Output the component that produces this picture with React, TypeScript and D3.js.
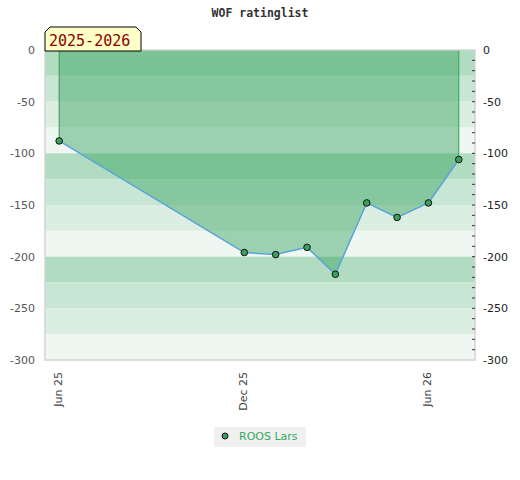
import React, { useRef, useEffect } from 'react';
import * as d3 from 'd3';

// rating history, first of every month
const ratingDates = ['2025-06-01', '2025-12-01', '2026-01-01', '2026-02-01', '2026-03-01', '2026-04-01', '2026-05-01', '2026-06-01', '2026-07-01'];
const ratingValues = [-88, -196, -198, -191, -217, -148, -162, -148, -106];

const xTickDates = ['2025-06-01', '2025-12-01', '2026-06-01'];
const yTicks = [0, -50, -100, -150, -200, -250, -300];
const xDomain = ['2025-05-18', '2026-07-17'];
const yDomain = [-300, 0];

const playerName = 'ROOS Lars';
const seasonLabel = '2025-2026';
const chartTitle = 'WOF ratinglist';

const bandColors = ['#b2dcc2', '#c8e6d4', '#dceee2', '#eef7f1'];

interface RatingPoint {
    date: Date;
    value: number;
}

const App: React.FC = () => {
    const svgRef = useRef<SVGSVGElement | null>(null);
    const width = 520;
    const height = 480;

    useEffect(() => {
        if (!svgRef.current) return;
        const svg = d3.select(svgRef.current);
        svg.selectAll('*').remove();

        const parse = d3.timeParse('%Y-%m-%d');
        const data: RatingPoint[] = ratingDates.map((d, i) => ({ date: parse(d) as Date, value: ratingValues[i] }));

        const margin = { top: 50, right: 45, bottom: 120, left: 45 };
        const x0 = margin.left;
        const x1 = width - margin.right;
        const yTop = margin.top;
        const yBottom = height - margin.bottom;

        const xScale = d3
            .scaleTime()
            .domain(xDomain.map((d) => parse(d) as Date))
            .range([x0, x1]);

        const yScale = d3.scaleLinear().domain(yDomain).range([yBottom, yTop]);

        // background bands, 25 points each
        const bandEdges = d3.range(0, -300, -25);
        svg.append('g')
            .selectAll('rect')
            .data(bandEdges)
            .join('rect')
            .attr('x', x0)
            .attr('width', x1 - x0)
            .attr('y', (d) => yScale(d))
            .attr('height', (d) => yScale(d - 25) - yScale(d))
            .attr('fill', (d, i) => bandColors[i % 4]);

        const area = d3
            .area<RatingPoint>()
            .x((d) => xScale(d.date))
            .y0(yScale(0))
            .y1((d) => yScale(d.value));

        svg.append('path')
            .datum(data)
            .attr('d', area)
            .attr('fill', 'rgb(40,158,85)')
            .attr('fill-opacity', 0.42);

        const first = data[0];
        const last = data[data.length - 1];
        svg.append('line')
            .attr('x1', xScale(first.date))
            .attr('x2', xScale(first.date))
            .attr('y1', yScale(0))
            .attr('y2', yScale(first.value))
            .attr('stroke', '#3d8f55')
            .attr('stroke-width', 1);
        svg.append('line')
            .attr('x1', xScale(last.date))
            .attr('x2', xScale(last.date))
            .attr('y1', yScale(0))
            .attr('y2', yScale(last.value))
            .attr('stroke', '#28a84f')
            .attr('stroke-width', 1);

        // plot border
        svg.append('rect')
            .attr('x', x0)
            .attr('y', yTop)
            .attr('width', x1 - x0)
            .attr('height', yBottom - yTop)
            .attr('fill', 'none')
            .attr('stroke', '#d3d3d3')
            .attr('stroke-width', 1.5);

        const line = d3
            .line<RatingPoint>()
            .x((d) => xScale(d.date))
            .y((d) => yScale(d.value));

        svg.append('path')
            .datum(data)
            .attr('d', line)
            .attr('fill', 'none')
            .attr('stroke', '#5ba3d9')
            .attr('stroke-width', 1.5);

        svg.append('g')
            .selectAll('circle')
            .data(data)
            .join('circle')
            .attr('cx', (d) => xScale(d.date))
            .attr('cy', (d) => yScale(d.value))
            .attr('r', 3.3)
            .attr('fill', '#3aa05e')
            .attr('stroke', '#111')
            .attr('stroke-width', 1);

        const plainNum = (d: d3.NumberValue) => String(d);

        // left axis
        const yAxisLeft = d3.axisLeft(yScale).tickValues(yTicks).tickSize(0).tickPadding(10).tickFormat(plainNum);
        const gl = svg.append('g').attr('transform', `translate(${x0},0)`).call(yAxisLeft);
        gl.select('.domain').remove();
        gl.selectAll('text').attr('font-family', 'DejaVu Sans').attr('font-size', 11).attr('fill', '#555');

        // right axis
        const yAxisRight = d3.axisRight(yScale).tickValues(yTicks).tickSize(0).tickPadding(8).tickFormat(plainNum);
        const gr = svg.append('g').attr('transform', `translate(${x1},0)`).call(yAxisRight);
        gr.select('.domain').remove();
        gr.selectAll('text').attr('font-family', 'DejaVu Sans').attr('font-size', 11).attr('fill', '#222');

        const minorTicks = d3.range(-10, -300, -10);
        svg.append('g')
            .selectAll('line')
            .data(minorTicks)
            .join('line')
            .attr('x1', x1 - 3)
            .attr('x2', x1)
            .attr('y1', (d) => yScale(d))
            .attr('y2', (d) => yScale(d))
            .attr('stroke', '#333')
            .attr('stroke-width', 1);

        // bottom axis, rotated labels
        const xAxis = d3
            .axisBottom(xScale)
            .tickValues(xTickDates.map((d) => parse(d) as Date))
            .tickSize(0)
            .tickFormat((d) => d3.timeFormat('%b %y')(d as Date));
        const gx = svg.append('g').attr('transform', `translate(-2,${yBottom})`).call(xAxis);
        gx.select('.domain').remove();
        gx.selectAll('text')
            .attr('font-family', 'DejaVu Sans')
            .attr('font-size', 11)
            .attr('fill', '#444')
            .attr('transform', 'rotate(-90)')
            .attr('text-anchor', 'end')
            .attr('x', -12)
            .attr('y', 0)
            .attr('dy', '0.35em');

        // season label
        const lx0 = x0;
        const lx1 = 141;
        const ly0 = 27;
        const ly1 = yTop + 1;
        svg.append('path')
            .attr('d', `M${lx0},${ly1} L${lx0},${ly0 + 5} L${lx0 + 5},${ly0} L${lx1 - 5},${ly0} L${lx1},${ly0 + 5} L${lx1},${ly1} Z`)
            .attr('fill', '#ffffc8')
            .attr('stroke', '#000')
            .attr('stroke-width', 1);
        svg.append('text')
            .attr('x', lx0 + 4)
            .attr('y', 46)
            .attr('font-family', 'DejaVu Sans Mono')
            .attr('font-size', 15)
            .attr('fill', '#8b0000')
            .text(seasonLabel);

        svg.append('text')
            .attr('x', width / 2)
            .attr('y', 16.5)
            .attr('text-anchor', 'middle')
            .attr('font-family', 'DejaVu Sans Mono')
            .attr('font-weight', 'bold')
            .attr('font-size', 11.5)
            .attr('fill', '#333')
            .text(chartTitle);

        // legend
        const legend = svg.append('g').attr('transform', 'translate(214,427)');
        legend.append('rect').attr('width', 92).attr('height', 20).attr('fill', '#f0f0f0');
        legend.append('circle').attr('cx', 11).attr('cy', 9).attr('r', 3).attr('fill', '#3aa05e').attr('stroke', '#111');
        legend.append('text')
            .attr('x', 25)
            .attr('y', 13)
            .attr('font-family', 'DejaVu Sans')
            .attr('font-size', 11)
            .attr('fill', '#33aa5f')
            .text(playerName);
    }, []);

    return (
        <svg
            ref={svgRef}
            width={width}
            height={height}
            style={{ position: 'absolute', left: 0, top: 0, background: '#fff' }}
        />
    );
};

export default App;
